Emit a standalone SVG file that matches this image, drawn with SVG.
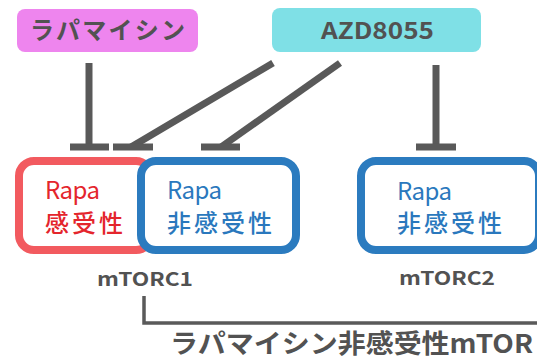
<svg xmlns="http://www.w3.org/2000/svg" width="537" height="364" viewBox="0 0 537 364">
<style>
.lbl{font-family:"Noto Sans CJK JP","Open Sans",sans-serif;font-weight:bold;fill:#525252}
.inh{stroke:#595959;stroke-width:7;fill:none}
.box{fill:#fff;stroke-width:8}
.red{font-family:"Noto Sans CJK JP",sans-serif;font-weight:500;fill:#e4252c;font-size:24px}
.blu{font-family:"Noto Sans CJK JP",sans-serif;font-weight:500;fill:#2a78bd;font-size:24px}
.lat{font-weight:400}
</style>
<rect width="537" height="364" fill="#fff"/>
<g id="rapamycin">
<rect x="17" y="9" width="181" height="43" rx="8" fill="#ee85ee"/>
<text class="lbl" x="30" y="39" font-size="24" textLength="155" lengthAdjust="spacing">ラパマイシン</text>
</g>
<g id="azd8055">
<rect x="272" y="8" width="209" height="44" rx="8" fill="#7fe0e6"/>
<text class="lbl" x="321" y="39" font-size="23" textLength="113" lengthAdjust="spacingAndGlyphs">AZD8055</text>
</g>
<g id="connectors">
<line class="inh" x1="89" y1="63" x2="89" y2="147"/>
<line class="inh" x1="70" y1="147" x2="109" y2="147"/>
<line class="inh" x1="273" y1="63" x2="131" y2="147"/>
<line class="inh" x1="113" y1="147" x2="153" y2="147"/>
<line class="inh" x1="340" y1="63" x2="221" y2="147"/>
<line class="inh" x1="201" y1="147" x2="240" y2="147"/>
<line class="inh" x1="436" y1="65" x2="436" y2="147"/>
<line class="inh" x1="416" y1="147" x2="456" y2="147"/>
<polyline points="144,296 144,323 537,323" fill="none" stroke="#5a5a5a" stroke-width="3.5"/>
</g>
<g id="mtorc1">
<rect class="box" x="19" y="161" width="132" height="89" rx="15" stroke="#f25a5f"/>
<rect class="box" x="141" y="161" width="155" height="89" rx="15" stroke="#2b7bbf"/>
<text class="red lat" x="45" y="199" textLength="55">Rapa</text>
<text class="red" x="45" y="232" textLength="78">感受性</text>
<text class="blu lat" x="167" y="199" textLength="55">Rapa</text>
<text class="blu" x="167" y="232" textLength="105">非感受性</text>
<text class="lbl" x="97" y="286" font-size="19" textLength="96" lengthAdjust="spacingAndGlyphs">mTORC1</text>
</g>
<g id="mtorc2">
<rect class="box" x="361" y="161" width="178" height="89" rx="15" stroke="#2b7bbf"/>
<text class="blu lat" x="397" y="200" textLength="55">Rapa</text>
<text class="blu" x="397" y="232" textLength="105">非感受性</text>
<text class="lbl" x="399" y="285" font-size="19" textLength="96" lengthAdjust="spacingAndGlyphs">mTORC2</text>
</g>
<g id="footer">
<text class="lbl" x="170" y="353" font-size="26" textLength="363" lengthAdjust="spacingAndGlyphs">ラパマイシン非感受性mTOR</text>
</g>
</svg>
